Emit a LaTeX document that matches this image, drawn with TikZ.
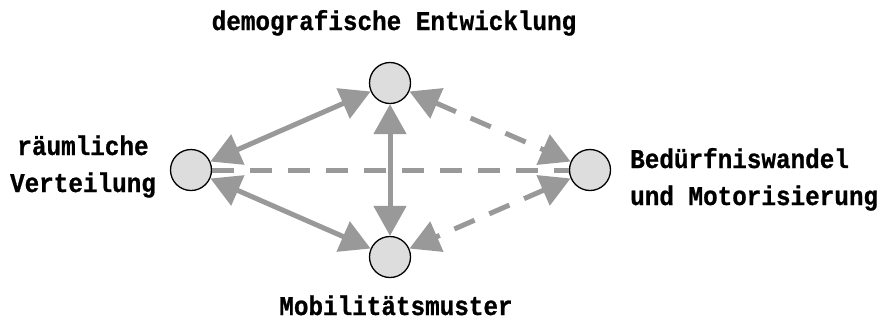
\documentclass[tikz,border=0pt]{standalone}
\usepackage{fontspec}
\newfontfamily\lbl[FakeStretch=0.9,BoldFeatures={FakeBold=0.8}]{Liberation Mono}
\usetikzlibrary{arrows.meta}
\definecolor{conngray}{RGB}{153,153,153}
\definecolor{circfill}{RGB}{221,221,221}
\tikzset{
  dot/.style={circle, minimum size=41bp, inner sep=0pt, fill=circfill, draw=black, line width=1.3bp},
  lab/.style={font=\lbl\bfseries\fontsize{27bp}{37bp}\selectfont, inner sep=0pt, anchor=base},
  conn/.style={draw=conngray, line width=5bp},
  both/.style={{Triangle[length=30bp 0,width=32bp 0]}-{Triangle[length=30bp 0,width=32bp 0]}},
  dsh/.style={dash pattern=on 22bp off 16bp}
}
\begin{document}
\begin{tikzpicture}[x=1bp,y=-1bp]
\useasboundingbox (0,0) rectangle (882,323);
\node[dot] (top) at (390,83) {};
\node[dot] (left) at (191,170) {};
\node[dot] (right) at (590,170) {};
\node[dot] (bot) at (390,257) {};
\draw[conn,dsh] (left) -- (right);
\draw[conn,both] (top) -- (left);
\draw[conn,both] (left) -- (bot);
\draw[conn,both] (top) -- (bot);
\draw[conn,both,dsh] (top) -- (right);
\draw[conn,both,dsh] (right) -- (bot);
\node[lab] (ttop) at (394,30) {demografische Entwicklung};
\node[lab] (tl1) at (83,155) {räumliche};
\node[lab] (tl2) at (83,192) {Verteilung};
\node[lab, anchor=base west] (tr1) at (630,168) {Bedürfniswandel};
\node[lab, anchor=base west] (tr2) at (630,205) {und Motorisierung};
\node[lab] (tbot) at (396,315) {Mobilitätsmuster};
\end{tikzpicture}
\end{document}
